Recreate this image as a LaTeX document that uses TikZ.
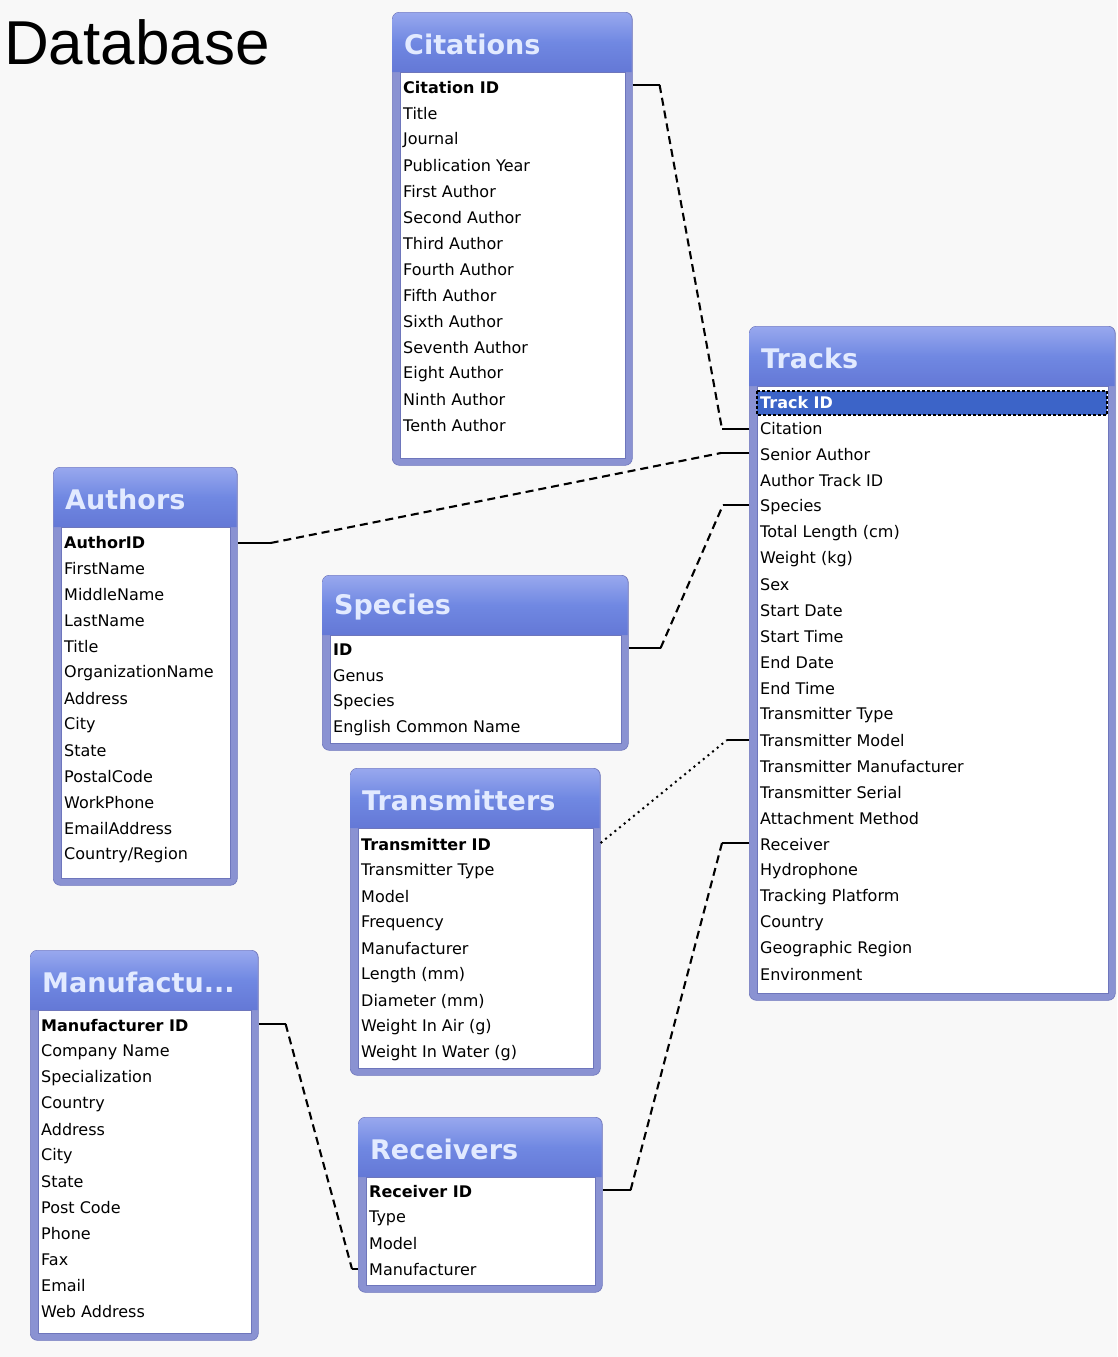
\documentclass[tikz,border=0pt]{standalone}
\usepackage{fontspec}
\setmainfont{DejaVu Sans}
\newfontfamily\arialf{Liberation Sans}
\usetikzlibrary{calc}
\definecolor{frameblue}{HTML}{8A92D2}
\definecolor{frameedge}{HTML}{6E76BC}
\definecolor{headtop}{HTML}{98A8EE}
\definecolor{headmid}{HTML}{7088E2}
\definecolor{headbot}{HTML}{6478D6}
\definecolor{titletext}{HTML}{E2EAFF}
\definecolor{selblue}{HTML}{3C64C8}
\definecolor{bgcol}{HTML}{F8F8F8}
\tikzset{
  field/.style={anchor=west, inner sep=0pt, font=\fontsize{16}{16}\selectfont, text=black},
  tabtitle/.style={anchor=west, inner sep=0pt, font=\fontsize{27}{27}\selectfont\bfseries, text=titletext},
  tabframe/.style={draw=frameedge, line width=0.6pt, fill=frameblue, rounded corners=7pt, anchor=north west, inner sep=0pt},
  link/.style={line width=2.1pt, dash pattern=on 8pt off 5pt},
  dotlink/.style={line width=2pt, dash pattern=on 2pt off 4pt},
  linksolid/.style={line width=2.1pt},
}
% #1 name #2 title #3 x1 #4 y1 #5 x2 #6 y2 #7 first row y #8 rows #9 extra code
\newcommand{\dbtab}[9]{%
  \pgfmathsetmacro{\tw}{#5-#3}\pgfmathsetmacro{\th}{#6-#4}%
  \node[tabframe, minimum width=\tw pt, minimum height=\th pt] (#1) at (#3,#4) {};
  \shade[top color=headtop, bottom color=headbot, middle color=headmid]
    ({#3+0.5},{#4+60}) [rounded corners=7pt]-- ({#3+0.5},{#4+0.5}) -- ({#5-0.5},{#4+0.5}) [sharp corners]-- ({#5-0.5},{#4+60}) -- cycle;
  \fill[white, draw=frameedge, line width=0.5pt] ({#3+8},{#4+60}) rectangle ({#5-7},{#6-7});
  \node[tabtitle] (#1-title) at ({#3+12},{#4+32}) {#2};
  #9
  \foreach \t [count=\i] in {#8} {\node[field] (#1-\i) at ({#3+11},{#7+(\i-1)*26}) {\t};}
}
\begin{document}
\begin{tikzpicture}[x=1pt,y=-1pt]
\fill[bgcol] (0,0) rectangle (1117,1357);
\useasboundingbox (0,0) rectangle (1117,1357);
\node[font=\arialf\fontsize{62}{62}\selectfont, anchor=base west, inner sep=0pt] (dbtitle) at (4,64) {Database};

\dbtab{citations}{Citations}{392}{12}{632}{465}{88}{{\bfseries Citation ID},Title,Journal,Publication Year,First Author,Second Author,Third Author,Fourth Author,Fifth Author,Sixth Author,Seventh Author,Eight Author,Ninth Author,Tenth Author}{}

\dbtab{tracks}{Tracks}{749}{326}{1115}{1000}{403}{{\color{white}\bfseries Track ID},Citation,Senior Author,Author Track ID,Species,Total Length (cm),Weight (kg),Sex,Start Date,Start Time,End Date,End Time,Transmitter Type,Transmitter Model,Transmitter Manufacturer,Transmitter Serial,Attachment Method,Receiver,Hydrophone,Tracking Platform,Country,Geographic Region,Environment}{\fill[selblue] (757,391) rectangle (1107,415); \draw[dash pattern=on 3pt off 2pt, line width=1.4pt] (757,391) rectangle (1107,415);}

\dbtab{authors}{Authors}{53}{467}{237}{885}{543}{{\bfseries AuthorID},FirstName,MiddleName,LastName,Title,OrganizationName,Address,City,State,PostalCode,WorkPhone,EmailAddress,Country/Region}{}

\dbtab{species}{Species}{322}{575}{628}{750}{650}{{\bfseries ID},Genus,Species,English Common Name}{}

\dbtab{transmitters}{Transmitters}{350}{768}{600}{1075}{845}{{\bfseries Transmitter ID},Transmitter Type,Model,Frequency,Manufacturer,Length (mm),Diameter (mm),Weight In Air (g),Weight In Water (g)}{}

\dbtab{manufacturers}{Manufactu...}{30}{950}{258}{1340}{1026}{{\bfseries Manufacturer ID},Company Name,Specialization,Country,Address,City,State,Post Code,Phone,Fax,Email,Web Address}{}

\dbtab{receivers}{Receivers}{358}{1117}{602}{1292}{1192}{{\bfseries Receiver ID},Type,Model,Manufacturer}{}

% connectors
\draw[linksolid] ($(citations.east |- citations-1)+(0,-3)$) -- ++(27,0) coordinate (c1a);
\draw[linksolid] (tracks.west |- tracks-2) -- ++(-27,0) coordinate (c1b);
\draw[link] (c1a) -- (c1b);

\draw[linksolid] (authors.east |- authors-1) -- ++(33,0) coordinate (c2a);
\draw[linksolid] ($(tracks.west |- tracks-3)+(0,-2)$) -- ++(-28,0) coordinate (c2b);
\draw[link] (c2a) -- (c2b);

\draw[linksolid] ($(species.east |- species-1)+(0,-2)$) -- ++(32,0) coordinate (c3a);
\draw[linksolid] ($(tracks.west |- tracks-5)+(0,-2)$) -- ++(-26,0) coordinate (c3b);
\draw[link] (c3a) -- (c3b);

\draw[linksolid] ($(tracks.west |- tracks-14)+(0,-1)$) -- ++(-22,0) coordinate (c4b);
\draw[dotlink] ($(transmitters.east |- transmitters-1)+(0,-2)$) -- (c4b);

\draw[linksolid] ($(receivers.east |- receivers-1)+(0,-2)$) -- ++(28,0) coordinate (c5a);
\draw[linksolid] ($(tracks.west |- tracks-18)+(0,-2)$) -- ++(-27,0) coordinate (c5b);
\draw[link] (c5a) -- (c5b);

\draw[linksolid] ($(manufacturers.east |- manufacturers-1)+(0,-2)$) -- ++(27,0) coordinate (c6a);
\draw[linksolid] ($(receivers.west |- receivers-4)+(0,-1)$) -- ++(-6,0) coordinate (c6b);
\draw[link] (c6a) -- (c6b);
\end{tikzpicture}
\end{document}
